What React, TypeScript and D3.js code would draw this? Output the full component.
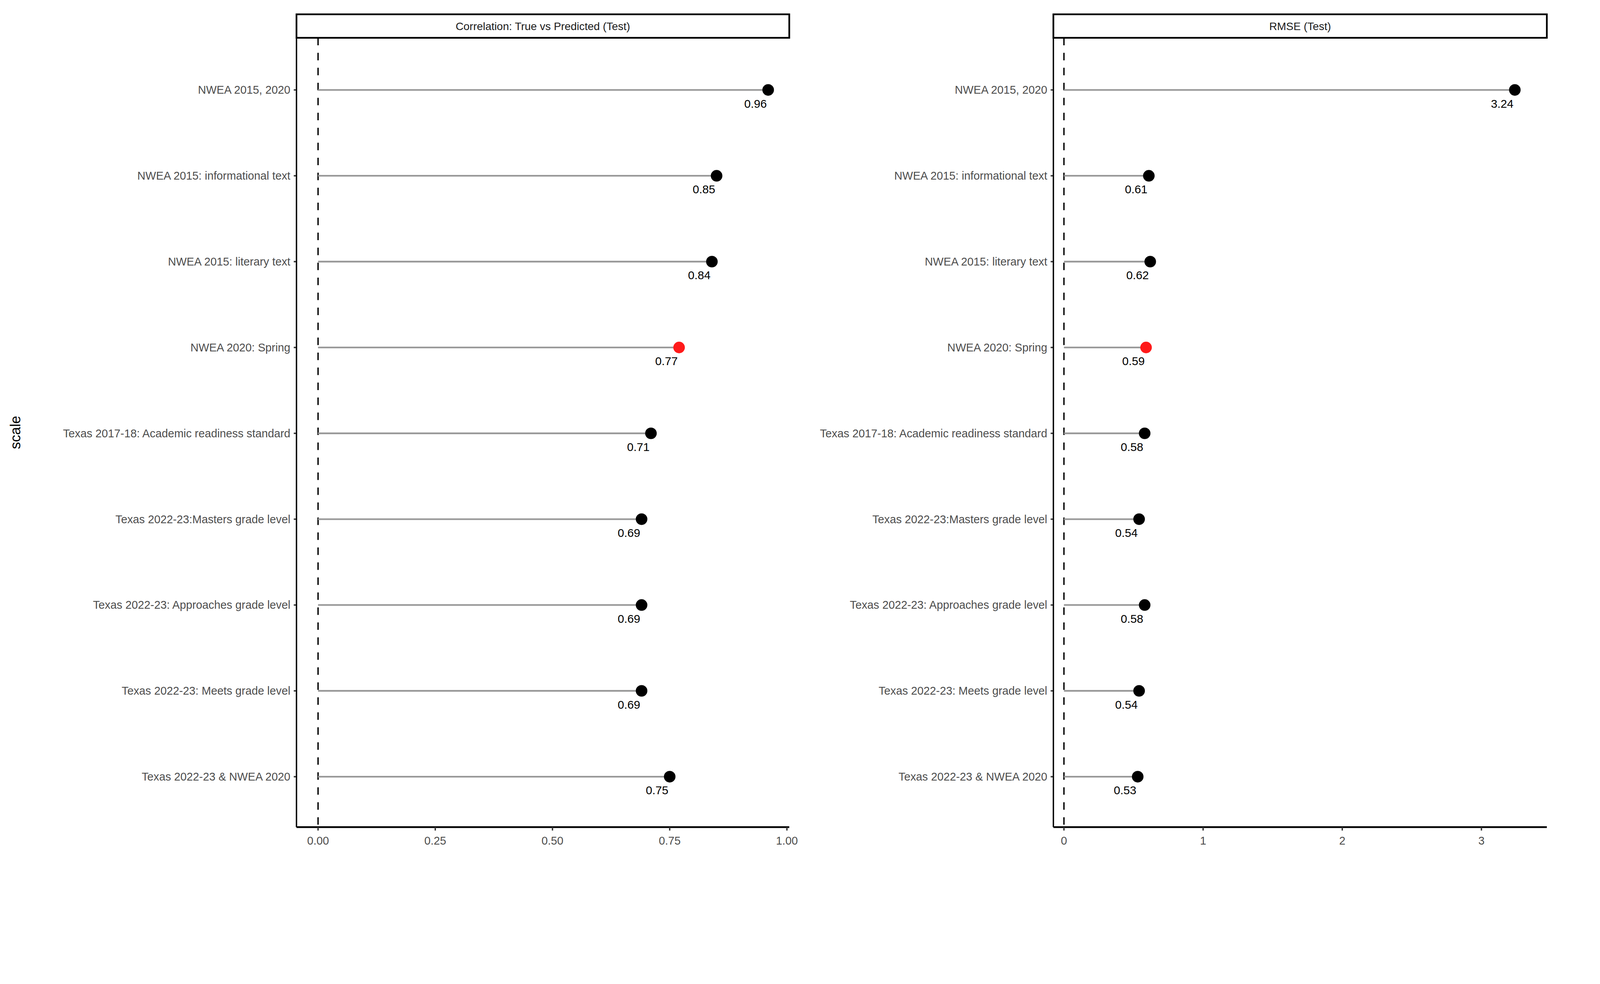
import React from "react";
import * as d3 from "d3";

const scales = [
  "NWEA 2015, 2020",
  "NWEA 2015: informational text",
  "NWEA 2015: literary text",
  "NWEA 2020: Spring",
  "Texas 2017-18: Academic readiness standard",
  "Texas 2022-23:Masters grade level",
  "Texas 2022-23: Approaches grade level",
  "Texas 2022-23: Meets grade level",
  "Texas 2022-23 & NWEA 2020",
];
const corrValues = [0.96, 0.85, 0.84, 0.77, 0.71, 0.69, 0.69, 0.69, 0.75];
const rmseValues = [3.24, 0.61, 0.62, 0.59, 0.58, 0.54, 0.58, 0.54, 0.53];
const highlight = "NWEA 2020: Spring";
const corrTicks = [0, 0.25, 0.5, 0.75, 1.0];
const rmseTicks = [0, 1, 2, 3];

const W = 4695, H = 2520;
const top = 111, bottom = 2428, stripTop = 42;
const font = "Liberation Sans, Arial, sans-serif";

function Panel({ x0, x1, domain, values, ticks, fmt, title }: any) {
  const x = d3.scaleLinear().domain(domain).range([x0, x1]);
  const y = d3.scalePoint<string>().domain(scales).range([264, 2280]);
  return (
    <g fontFamily={font}>
      <rect x={x0} y={stripTop} width={x1 - x0} height={top - stripTop} fill="white" stroke="black" strokeWidth={5} />
      <text x={(x0 + x1) / 2} y={(stripTop + top) / 2} dy="0.35em" textAnchor="middle" fontSize={32} fill="#1a1a1a">{title}</text>
      <line x1={x(0)} x2={x(0)} y1={top} y2={bottom} stroke="black" strokeWidth={4} strokeDasharray="22,22" />
      {scales.map((s, i) => {
        const v = values[i];
        return (
          <g key={s}>
            <line x1={x0 - 8} x2={x0} y1={y(s)} y2={y(s)} stroke="#333" strokeWidth={4} />
            <text x={x0 - 18} y={y(s)} dy="0.35em" textAnchor="end" fontSize={33} fill="#4d4d4d">{s}</text>
            <line x1={x(0)} x2={x(v)} y1={y(s)} y2={y(s)} stroke="#999" strokeWidth={5} />
            <circle cx={x(v)} cy={y(s)} r={17} fill={s === highlight ? "#ff1a1a" : "black"} />
            <text x={x(v) - 4} y={y(s)! + 40} dy="0.35em" textAnchor="end" fontSize={34} fill="black">{v.toFixed(2)}</text>
          </g>
        );
      })}
      <line x1={x0} x2={x0} y1={top} y2={bottom} stroke="black" strokeWidth={4} />
      <line x1={x0} x2={x1} y1={bottom} y2={bottom} stroke="black" strokeWidth={5} />
      {ticks.map((t: number) => (
        <g key={t}>
          <line x1={x(t)} x2={x(t)} y1={bottom} y2={bottom + 10} stroke="#333" strokeWidth={4} />
          <text x={x(t)} y={bottom + 40} dy="0.35em" textAnchor="middle" fontSize={33} fill="#4d4d4d">{fmt(t)}</text>
        </g>
      ))}
    </g>
  );
}

export default function App() {
  return (
    <svg
      viewBox={`0 0 ${W} ${H}`}
      preserveAspectRatio="xMinYMin meet"
      style={{ position: "fixed", left: 0, top: 0, width: "100vw", height: "100vh", display: "block", background: "white" }}
    >
      <rect width={W} height={H} fill="white" />
      <text transform={`translate(60,${(top + bottom) / 2}) rotate(-90)`} textAnchor="middle" fontSize={42} fontFamily={font} fill="black">scale</text>
      <Panel x0={870} x1={2316} domain={[-0.046, 1.005]} values={corrValues} ticks={corrTicks} fmt={(t: number) => t.toFixed(2)} title="Correlation: True vs Predicted (Test)" />
      <Panel x0={3091} x1={4539} domain={[-0.076, 3.47]} values={rmseValues} ticks={rmseTicks} fmt={(t: number) => String(t)} title="RMSE (Test)" />
    </svg>
  );
}
